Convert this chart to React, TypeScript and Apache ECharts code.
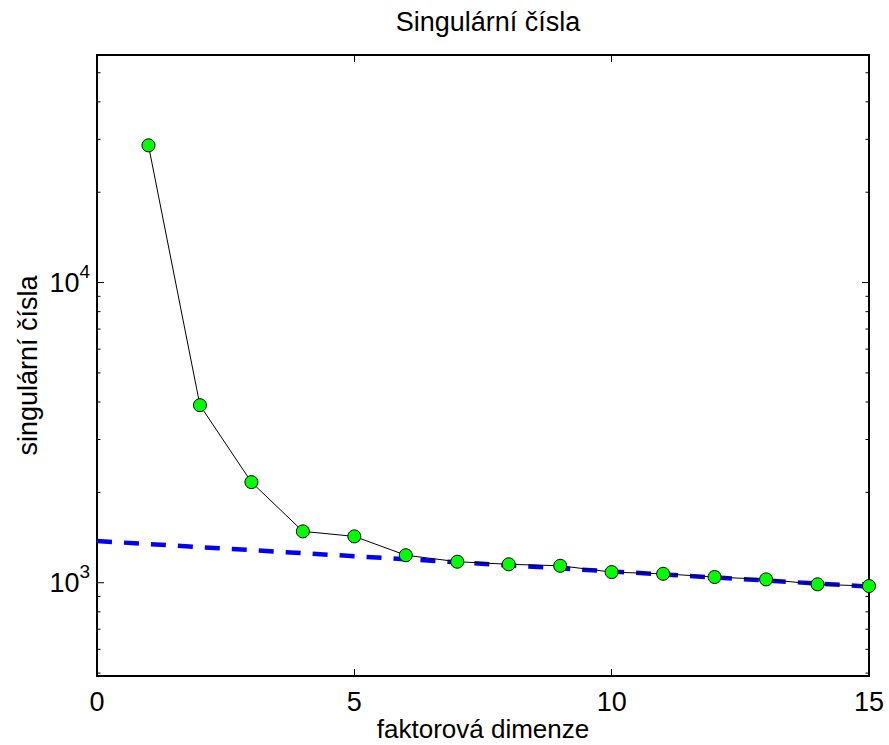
import React, { useEffect, useRef } from "react";
import * as echarts from "echarts";

const dims = [1, 2, 3, 4, 5, 6, 7, 8, 9, 10, 11, 12, 13, 14, 15];
const singularValues = [28650, 3904, 2164, 1483, 1427, 1235, 1175, 1152, 1139, 1085, 1071, 1045, 1026, 988, 975];
const fitX = [0, 15];
const fitY = [1377, 971];
const yTickValues = [500, 600, 700, 800, 900, 1000, 2000, 3000, 4000, 5000, 6000, 7000, 8000, 9000, 10000, 20000, 30000, 40000, 50000];
const yMajorTicks = [1000, 10000];
const xTicks = [0, 5, 10, 15];

const FONT = "Liberation Sans";

export default function App() {
  const ref = useRef<HTMLDivElement>(null);
  useEffect(() => {
    const chart = echarts.init(ref.current!, null, { renderer: "svg" });
    const tickData = yTickValues.map((v) => [0, v, yMajorTicks.includes(v) ? 7 : 3.5]);
    chart.setOption({
      animation: false,
      backgroundColor: "#fff",
      textStyle: { fontFamily: FONT },
      title: {
        text: "Singulární čísla",
        left: 483,
        textAlign: "center",
        top: 3,
        textStyle: { fontFamily: FONT, fontSize: 27, fontWeight: "normal", color: "#000" },
      },
      grid: {
        left: 97,
        right: 20,
        top: 55,
        bottom: 69,
        show: true,
        borderColor: "#000",
        borderWidth: 2,
        backgroundColor: "transparent",
        outerBoundsMode: "none",
        containLabel: false,
      },
      xAxis: [
        {
          type: "value",
          min: xTicks[0],
          max: xTicks[xTicks.length - 1],
          interval: 5,
          position: "bottom",
          name: "faktorová dimenze",
          nameLocation: "middle",
          nameGap: 40,
          nameMoveOverlap: false,
          nameTextStyle: { fontFamily: FONT, fontSize: 26, lineHeight: 26, color: "#000" },
          axisLine: { show: true, lineStyle: { color: "#000", width: 2 } },
          axisTick: { show: true, inside: true, length: 7, lineStyle: { color: "#000", width: 1 } },
          axisLabel: { fontFamily: FONT, fontSize: 27, color: "#000", margin: 12 },
          splitLine: { show: false },
        },
        {
          type: "value",
          min: xTicks[0],
          max: xTicks[xTicks.length - 1],
          interval: 5,
          position: "top",
          axisLine: { show: true, lineStyle: { color: "#000", width: 2 } },
          axisTick: { show: true, inside: true, length: 7, lineStyle: { color: "#000", width: 1 } },
          axisLabel: { show: false },
          splitLine: { show: false },
        },
      ],
      yAxis: [
        {
          type: "log",
          logBase: 10,
          min: 489,
          max: 57300,
          name: "singulární čísla",
          nameLocation: "middle",
          nameGap: 56,
          nameMoveOverlap: false,
          nameTextStyle: { fontFamily: FONT, fontSize: 27, color: "#000" },
          axisLine: { show: true, lineStyle: { color: "#000", width: 2 } },
          axisTick: { show: false },
          splitLine: { show: false },
          minorTick: { show: false },
          axisLabel: {
            margin: 7,
            color: "#000",
            showMinLabel: false,
            showMaxLabel: false,
            formatter: (v: number) => {
              const l = Math.log10(v);
              if (Math.abs(l - Math.round(l)) > 1e-6) return "";
              return "{b|10}{s|" + Math.round(l) + "}";
            },
            rich: {
              b: { fontFamily: FONT, fontSize: 27, lineHeight: 41, color: "#000" },
              s: { fontFamily: FONT, fontSize: 19, lineHeight: 19, verticalAlign: "top", color: "#000" },
            },
          },
        },
      ],
      series: [
        {
          type: "custom",
          coordinateSystem: "cartesian2d",
          clip: false,
          silent: true,
          z: 1,
          renderItem: (params: any, api: any) => {
            const v = api.value(1);
            const len = api.value(2);
            const l = api.coord([xTicks[0], v]);
            const r = api.coord([xTicks[xTicks.length - 1], v]);
            return {
              type: "group",
              children: [
                { type: "line", shape: { x1: l[0], y1: l[1], x2: l[0] + len, y2: l[1] }, style: { stroke: "#000", lineWidth: 1 } },
                { type: "line", shape: { x1: r[0], y1: r[1], x2: r[0] - len, y2: r[1] }, style: { stroke: "#000", lineWidth: 1 } },
              ],
            };
          },
          data: tickData,
        },
        {
          type: "line",
          z: 2,
          data: fitX.map((x, i) => [x, fitY[i]]),
          showSymbol: false,
          symbol: "none",
          lineStyle: { color: "#0000ff", width: 4.5, type: [15, 12] },
        },
        {
          type: "line",
          z: 3,
          data: dims.map((d, i) => [d, singularValues[i]]),
          symbol: "circle",
          symbolSize: 13,
          itemStyle: { color: "#00ff00", borderColor: "#000", borderWidth: 1 },
          lineStyle: { color: "#000", width: 1 },
        },
      ],
    });
    return () => chart.dispose();
  }, []);
  return <div ref={ref} style={{ position: "fixed", left: 0, top: 0, width: 889, height: 745 }} />;
}
